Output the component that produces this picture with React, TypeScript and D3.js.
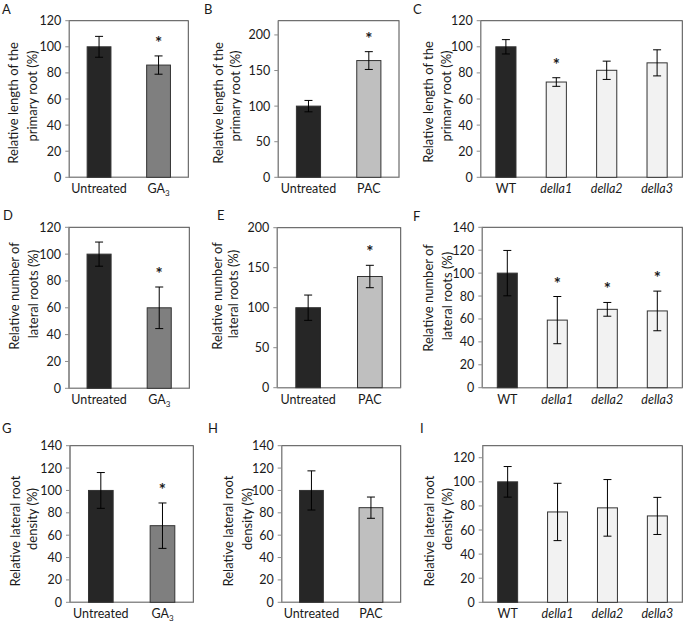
import React from "react";
import * as d3 from "d3";

// ---------- data ----------
const catsGA = ["Untreated", "GA3"];
const catsPAC = ["Untreated", "PAC"];
const catsDella = ["WT", "della1", "della2", "della3"];

const lengthGA = [100, 86];
const lengthGAErr = [8, 7];
const lengthGAStar = [false, true];

const lengthPAC = [100, 164];
const lengthPACErr = [8, 12.5];
const lengthPACStar = [false, true];

const lengthDella = [100, 73, 82, 87.7];
const lengthDellaErr = [5.5, 3.3, 7, 10];
const lengthDellaStar = [false, true, false, false];

const numberGA = [100, 60];
const numberGAErr = [9, 15.5];
const numberGAStar = [false, true];

const numberPAC = [100, 139];
const numberPACErr = [15.8, 14];
const numberPACStar = [false, true];

const numberDella = [100, 59, 68.4, 67];
const numberDellaErr = [19.8, 20.6, 6, 17.3];
const numberDellaStar = [false, true, true, true];

const densityGA = [100, 68.5];
const densityGAErr = [16, 20.3];
const densityGAStar = [false, true];

const densityPAC = [100, 84.6];
const densityPACErr = [17.5, 9.5];
const densityPACStar = [false, false];

const densityDella = [100, 75, 78.4, 71.7];
const densityDellaErr = [12.7, 23.8, 23.5, 15.4];
const densityDellaStar = [false, false, false, false];

const titleLength = ["Relative length of the", "primary root (%)"];
const titleNumber = ["Relative number of", "lateral roots (%)"];
const titleDensity = ["Relative lateral root", "density (%)"];

const fillOf: Record<string, string> = {
  Untreated: "#262626",
  WT: "#262626",
  GA3: "#7f7f7f",
  PAC: "#bfbfbf",
  della1: "#f2f2f2",
  della2: "#f2f2f2",
  della3: "#f2f2f2",
};

// ---------- layout ----------
const panels = [
  { letter: "A", lx: 2, ly: 14, L: 69.3, R: 188.3, T: 20.7, B: 177.3, max: 120, step: 20, cats: catsGA, vals: lengthGA, errs: lengthGAErr, stars: lengthGAStar, title: titleLength, t1: [13, 103], t2: [32, 96] },
  { letter: "B", lx: 204, ly: 14, L: 278.3, R: 399, T: 20.7, B: 177.3, max: 220, step: 50, cats: catsPAC, vals: lengthPAC, errs: lengthPACErr, stars: lengthPACStar, title: titleLength, t1: [218, 103], t2: [235, 96] },
  { letter: "C", lx: 413, ly: 14, L: 480.7, R: 682.3, T: 20.7, B: 177.3, max: 120, step: 20, cats: catsDella, vals: lengthDella, errs: lengthDellaErr, stars: lengthDellaStar, title: titleLength, t1: [428, 102], t2: [446, 96] },
  { letter: "D", lx: 3, ly: 220, L: 69, R: 189.3, T: 227.3, B: 388.3, max: 120, step: 20, cats: catsGA, vals: numberGA, errs: numberGAErr, stars: numberGAStar, title: titleNumber, t1: [14, 296], t2: [32.5, 294] },
  { letter: "E", lx: 217, ly: 220, L: 277.3, R: 400.7, T: 227.7, B: 387.7, max: 200, step: 50, cats: catsPAC, vals: numberPAC, errs: numberPACErr, stars: numberPACStar, title: titleNumber, t1: [217, 296], t2: [233, 294] },
  { letter: "F", lx: 413, ly: 221, L: 482.3, R: 682.3, T: 227.3, B: 387.7, max: 140, step: 20, cats: catsDella, vals: numberDella, errs: numberDellaErr, stars: numberDellaStar, title: titleNumber, t1: [428, 298], t2: [447, 296] },
  { letter: "G", lx: 2, ly: 433, L: 70, R: 193.3, T: 445.7, B: 602.3, max: 140, step: 20, cats: catsGA, vals: densityGA, errs: densityGAErr, stars: densityGAStar, title: titleDensity, t1: [15, 531], t2: [32, 519] },
  { letter: "H", lx: 208, ly: 433, L: 281.7, R: 400.7, T: 445.7, B: 602.3, max: 140, step: 20, cats: catsPAC, vals: densityPAC, errs: densityPACErr, stars: densityPACStar, title: titleDensity, t1: [228, 531], t2: [247, 519] },
  { letter: "I", lx: 420, ly: 433, L: 482.7, R: 682.3, T: 445.7, B: 602.3, max: 130, step: 20, cats: catsDella, vals: densityDella, errs: densityDellaErr, stars: densityDellaStar, title: titleDensity, t1: [429, 531], t2: [447, 519] },
];

const FONT = "Lato, 'Open Sans', sans-serif";

function CatLabel({ c, x, y }: { c: string; x: number; y: number }) {
  if (c === "GA3") {
    return (
      <text x={x} y={y} textAnchor="middle" fontSize={12.5}>
        GA<tspan fontSize={8} dy={3}>3</tspan>
      </text>
    );
  }
  const italic = c.startsWith("della");
  return (
    <text x={x} y={y} textAnchor="middle" fontSize={12.5} fontStyle={italic ? "italic" : "normal"}>
      {c}
    </text>
  );
}

function Panel({ p }: { p: (typeof panels)[number] }) {
  const x = d3.scaleBand<string>().domain(p.cats).range([p.L, p.R]).paddingInner(0.6).paddingOuter(0.3);
  const y = d3.scaleLinear().domain([0, p.max]).range([p.B, p.T]);
  const ticks = d3.range(0, p.max + 0.001, p.step);
  const bw = x.bandwidth();
  return (
    <g>
      <text x={p.lx} y={p.ly} fontSize={13}>{p.letter}</text>
      {/* frame */}
      <rect x={p.L} y={p.T} width={p.R - p.L} height={p.B - p.T} fill="white" stroke="#4d4d4d" strokeWidth={1} />
      <line x1={p.L} x2={p.L} y1={p.T} y2={p.B} stroke="#8c8c8c" strokeWidth={1.2} />
      <line x1={p.L} x2={p.R} y1={p.B} y2={p.B} stroke="#8c8c8c" strokeWidth={1.2} />
      {ticks.map((t) => (
        <g key={t}>
          <line x1={p.L - 4} x2={p.L} y1={y(t)} y2={y(t)} stroke="#8c8c8c" />
          <text x={p.L - 8} y={y(t)} textAnchor="end" dominantBaseline="central" fontSize={12.5}>
            {t}
          </text>
        </g>
      ))}
      {p.cats.map((c, i) => {
        const bx = x(c)!;
        const cx = bx + bw / 2;
        const v = p.vals[i];
        const e = p.errs[i];
        const top = y(v + e);
        const bot = y(v - e);
        return (
          <g key={c}>
            <rect x={bx} y={y(v)} width={bw} height={p.B - y(v)} fill={fillOf[c]} stroke="#333" strokeWidth={1} />
            <line x1={cx} x2={cx} y1={top} y2={bot} stroke="#000" strokeWidth={1} />
            <line x1={cx - 4} x2={cx + 4} y1={top} y2={top} stroke="#000" strokeWidth={1} />
            <line x1={cx - 4} x2={cx + 4} y1={bot} y2={bot} stroke="#000" strokeWidth={1} />
            {p.stars[i] && (
              <text x={cx} y={top - 7} textAnchor="middle" fontSize={17} fontWeight="bold">
                *
              </text>
            )}
            <CatLabel c={c} x={cx} y={p.B + 16} />
          </g>
        );
      })}
      <text transform={`translate(${p.t1[0]},${p.t1[1]}) rotate(-90)`} textAnchor="middle" dominantBaseline="central" fontSize={13}>
        {p.title[0]}
      </text>
      <text transform={`translate(${p.t2[0]},${p.t2[1]}) rotate(-90)`} textAnchor="middle" dominantBaseline="central" fontSize={13}>
        {p.title[1]}
      </text>
    </g>
  );
}

export default function App() {
  return (
    <svg
      width={685}
      height={622}
      style={{ position: "absolute", left: 0, top: 0, background: "white" }}
      fontFamily={FONT}
      fill="#1a1a1a"
    >
      <rect width={685} height={622} fill="white" />
      {panels.map((p) => (
        <Panel key={p.letter} p={p} />
      ))}
    </svg>
  );
}
